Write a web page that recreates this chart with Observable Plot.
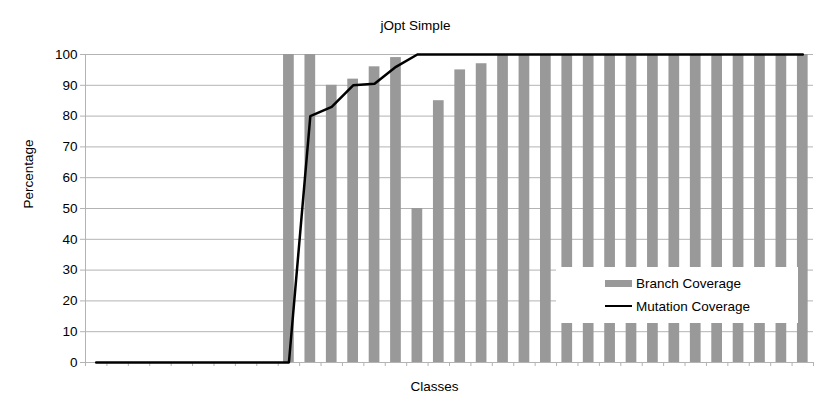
<!DOCTYPE html>
<html>
<head>
<meta charset="utf-8">
<script src="https://cdn.jsdelivr.net/npm/d3@7"></script>
<script src="https://cdn.jsdelivr.net/npm/@observablehq/plot@0.6"></script>
<style>
  html, body { margin: 0; padding: 0; background: #fff; }
  #wrap { position: relative; width: 830px; height: 415px; font-family: "Liberation Sans", Arial, sans-serif; }
  #legend { position: absolute; left: 556px; top: 267px; width: 242px; height: 56px; background: #fff; font-size: 13.5px; color: #000; }
  .item { position: absolute; left: 49px; display: flex; align-items: center; height: 16px; }
  .sw { width: 27px; margin-right: 4px; }
</style>
</head>
<body>
<div id="wrap"></div>
<script>
// ---- data ----
const title = "jOpt Simple";
const xLabel = "Classes";
const yLabel = "Percentage";
const seriesNames = ["Branch Coverage", "Mutation Coverage"];
const classes = ["C01","C02","C03","C04","C05","C06","C07","C08","C09","C10","C11","C12","C13","C14","C15","C16","C17",
                 "C18","C19","C20","C21","C22","C23","C24","C25","C26","C27","C28","C29","C30","C31","C32","C33","C34"];
const branchCoverage = [0,0,0,0,0,0,0,0,0,100,100,90,92,96,99,50,85,95,97,100,100,100,100,100,100,100,100,100,100,100,100,100,100,100];
const mutationCoverage = [0,0,0,0,0,0,0,0,0,0,80,83,90,90.5,96,100,100,100,100,100,100,100,100,100,100,100,100,100,100,100,100,100,100,100];
const yTicks = [0,10,20,30,40,50,60,70,80,90,100];

const rows = classes.map((c, i) => ({cls: c, branch: branchCoverage[i], mutation: mutationCoverage[i]}));

const W = 830, H = 415, mL = 85, mR = 17, mT = 54, mB = 53;
const step = (W - mL - mR) / classes.length;
const gridColor = "#b3b3b3";

const chart = Plot.plot({
  width: W, height: H,
  marginLeft: mL, marginRight: mR, marginTop: mT, marginBottom: mB,
  style: {fontFamily: "Liberation Sans, Arial, sans-serif", fontSize: "13px", color: "#000", background: "#fff"},
  x: {type: "band", domain: classes, paddingInner: 0.5, paddingOuter: 0.25, round: false, axis: null},
  y: {domain: [0, 100], axis: null},
  marks: [
    Plot.gridY(yTicks, {stroke: gridColor, strokeOpacity: 1, strokeWidth: 1}),
    Plot.axisY(yTicks, {tickSize: 5, tickPadding: 3, stroke: gridColor, strokeOpacity: 1, label: null, fill: "#000", fontSize: 13.5}),
    Plot.barY(rows, {x: "cls", y: "branch", fill: "#999999"}),
    Plot.ruleY([0], {stroke: gridColor}),
    Plot.ruleX([classes[0]], {y1: 0, y2: 100, dx: -step / 2, stroke: gridColor}),
    Plot.axisX(classes, {tickSize: 4, tickFormat: () => "", dx: -step / 2, stroke: gridColor, strokeOpacity: 1, label: null}),
    Plot.axisX([classes[classes.length - 1]], {tickSize: 4, tickFormat: () => "", dx: step / 2, stroke: gridColor, strokeOpacity: 1, label: null}),
    Plot.line(rows, {x: "cls", y: "mutation", stroke: "#000", strokeWidth: 2.5, strokeLinejoin: "round"}),
    Plot.text([title], {frameAnchor: "top", dy: -34, dx: -34, fill: "#000", fontSize: 13.5}),
    Plot.text([xLabel], {frameAnchor: "bottom", dy: 28, dx: -15, fill: "#000", fontSize: 13.5}),
    Plot.text([yLabel], {frameAnchor: "left", dx: -57, rotate: -90, fill: "#000", fontSize: 13.5})
  ]
});

const wrap = document.getElementById("wrap");
wrap.appendChild(chart);

const legend = document.createElement("div");
legend.id = "legend";
legend.innerHTML =
  `<div class="item" style="top:8px"><div class="sw" style="height:7px;background:#999999"></div><span>${seriesNames[0]}</span></div>` +
  `<div class="item" style="top:31px"><div class="sw" style="height:2.5px;background:#000"></div><span>${seriesNames[1]}</span></div>`;
wrap.appendChild(legend);
</script>
</body>
</html>
